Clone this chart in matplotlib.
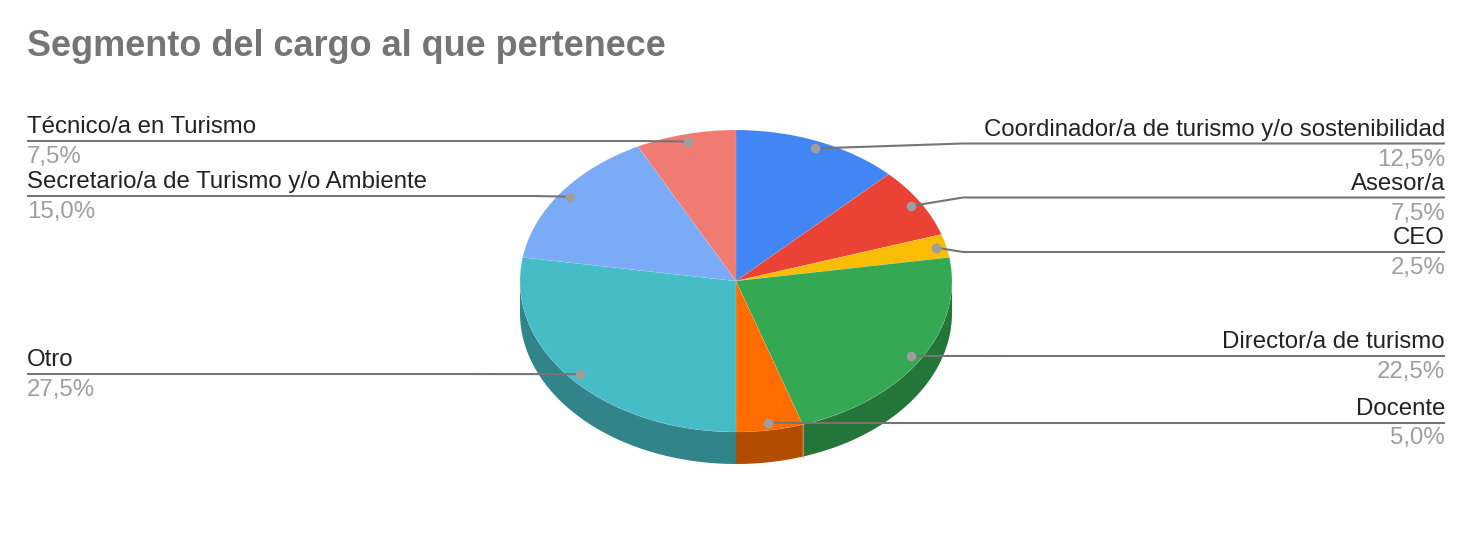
import matplotlib
matplotlib.use("Agg")
import matplotlib.pyplot as plt
import numpy as np

plt.rcParams['font.family'] = ['Liberation Sans', 'DejaVu Sans']

title = "Segmento del cargo al que pertenece"
labels = ["Coordinador/a de turismo y/o sostenibilidad", "Asesor/a", "CEO",
          "Director/a de turismo", "Docente", "Otro",
          "Secretario/a de Turismo y/o Ambiente", "Técnico/a en Turismo"]
values = [12.5, 7.5, 2.5, 22.5, 5.0, 27.5, 15.0, 7.5]

colors = ["#4285f4", "#ea4335", "#fbbc04", "#34a853", "#ff6d01", "#46bdc6", "#7baaf7", "#f07b72"]
dark = ["#2e5daa", "#a32e25", "#af8302", "#24753a", "#b24c00", "#31848a", "#5676ac", "#a85650"]

# layout, in pixels of the 1472x540 picture
cx, cy, rx, ry, depth = 736, 281, 216, 151, 32
text_y = [(136, 166), (190, 220), (244, 274), (348, 378), (415, 444),
          (366, 396), (188, 218), (133, 163)]
line_y = [143.5, 197.5, 252, 356, 423, 374, 196, 141]
elbow_x = [963, 963, 963, 1005, 800, 470, 535, 640]

fig = plt.figure(figsize=(14.72, 5.4), dpi=100)
fig.patch.set_facecolor("white")

# pie body
ax = fig.add_axes([(cx - rx) / 1472, (540 - (cy + ry + depth + 1)) / 540,
                   2 * rx / 1472, (2 * ry + depth + 1) / 540])
edges = np.cumsum([0] + values) * 3.6
dy = depth / ry
for i in range(len(values)):
    a0 = max(edges[i], 90)
    a1 = min(edges[i + 1], 270)
    if a0 < a1:
        t = np.radians(np.linspace(a0, a1, 80))
        xs = np.concatenate([np.sin(t), np.sin(t)[::-1]])
        ys = np.concatenate([np.cos(t), np.cos(t)[::-1] - dy])
        ax.fill(xs, ys, color=dark[i], lw=0, zorder=1, clip_on=False)
ax.pie(values, colors=colors, startangle=90, counterclock=False, radius=1,
       wedgeprops={"linewidth": 0.2, "edgecolor": "#ffffff55", "zorder": 2})
# seam between Docente and Director on the side wall
t = np.radians(edges[4])
ax.plot([np.sin(t), np.sin(t)], [np.cos(t), np.cos(t) - dy], color="#d98a4a", lw=0.6, zorder=3)
ax.set_aspect("auto")
ax.set_xlim(-1, 1)
ax.set_ylim(-1 - (depth + 1) / ry, 1)
ax.axis("off")

# labels and leader lines on top
top = fig.add_axes([0, 0, 1, 1])
top.set_xlim(0, 1472)
top.set_ylim(540, 0)
top.axis("off")
top.patch.set_alpha(0)

top.text(27, 56, title, fontsize=25.9, fontweight="bold", color="#757575", va="baseline")

mids = (edges[:-1] + edges[1:]) / 2
for i in range(len(values)):
    t = np.radians(mids[i])
    dot_x = cx + 0.95 * rx * np.sin(t)
    dot_y = cy - 0.95 * ry * np.cos(t)
    right = mids[i] < 180
    end_x = 1445 if right else 27
    ha = "right" if right else "left"
    top.plot([dot_x, elbow_x[i], end_x], [dot_y, line_y[i], line_y[i]],
             color="#757575", lw=1.5, solid_capstyle="butt", zorder=4)
    top.plot([dot_x], [dot_y], "o", ms=7, color="#9e9e9e", mew=0, zorder=5)
    top.text(end_x, text_y[i][0], labels[i], fontsize=17.25, color="#222222", ha=ha, va="baseline")
    pct = ("%.1f%%" % values[i]).replace(".", ",")
    top.text(end_x, text_y[i][1], pct, fontsize=17.25, color="#9e9e9e", ha=ha, va="baseline")

plt.savefig("out.png", dpi=100)
